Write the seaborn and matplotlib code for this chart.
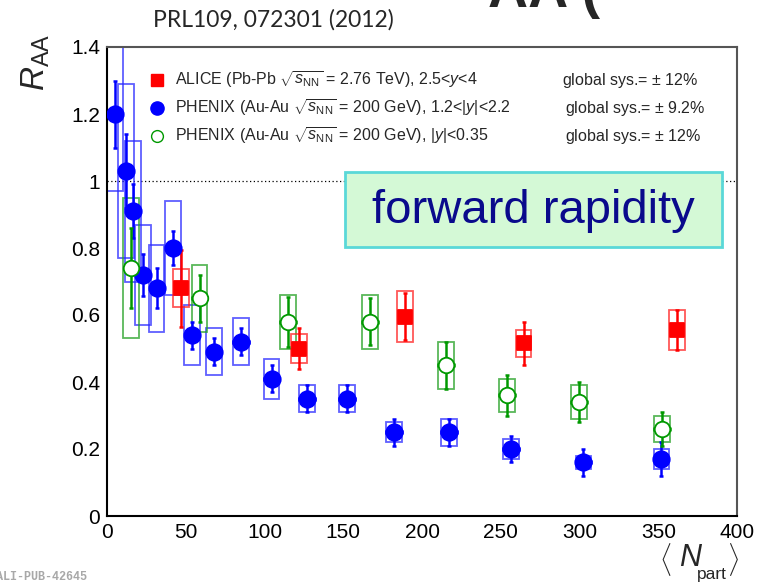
import numpy as np
import pandas as pd
import matplotlib
matplotlib.use("Agg")
import matplotlib.pyplot as plt
from matplotlib.patches import Rectangle
from matplotlib.ticker import MultipleLocator
import seaborn as sns

# ALICE Pb-Pb, forward rapidity
npart_alice = [47, 122, 189, 264.5, 362]
raa_alice = [0.68, 0.50, 0.595, 0.515, 0.555]
stat_alice = [0.115, 0.06, 0.07, 0.065, 0.06]
sys_alice = [0.057, 0.042, 0.076, 0.041, 0.06]
xerr_alice = [2, 2, 2, 2, 2]

# PHENIX Au-Au, 1.2<|y|<2.2
npart_fwd = [5, 12, 16.3, 23, 31.5, 41.7, 54, 68, 85, 104.5, 127, 152.5, 182, 217, 256.5, 302.5, 352]
raa_fwd = [1.20, 1.03, 0.91, 0.72, 0.68, 0.80, 0.54, 0.49, 0.52, 0.41, 0.35, 0.35, 0.25, 0.25, 0.20, 0.16, 0.17]
stat_fwd = [0.10, 0.11, 0.08, 0.062, 0.06, 0.05, 0.04, 0.04, 0.04, 0.04, 0.04, 0.04, 0.04, 0.04, 0.04, 0.04, 0.05]
sys_fwd = [0.23, 0.26, 0.21, 0.15, 0.13, 0.14, 0.09, 0.07, 0.07, 0.06, 0.04, 0.04, 0.03, 0.04, 0.03, 0.02, 0.03]
xerr_fwd = [0, 0, 0, 0, 0, 0, 4, 4, 5, 5, 5, 5, 5, 5, 5, 5, 4]

# PHENIX Au-Au, |y|<0.35
npart_mid = [15.2, 58.8, 114.7, 166.8, 215.3, 254.2, 299.8, 352.4]
raa_mid = [0.74, 0.65, 0.58, 0.58, 0.45, 0.36, 0.34, 0.26]
stat_mid = [0.12, 0.07, 0.075, 0.07, 0.07, 0.06, 0.06, 0.05]
sys_mid = [0.21, 0.10, 0.08, 0.08, 0.07, 0.05, 0.05, 0.04]
xerr_mid = [0, 5, 5, 5, 5, 5, 5, 5]

legend_labels = [
    r"ALICE (Pb-Pb $\sqrt{s_{\rm NN}}$ = 2.76 TeV), 2.5<$y$<4",
    r"PHENIX (Au-Au $\sqrt{s_{\rm NN}}$ = 200 GeV), 1.2<|$y$|<2.2",
    r"PHENIX (Au-Au $\sqrt{s_{\rm NN}}$ = 200 GeV), |$y$|<0.35",
]
global_sys = [r"global sys.= $\pm$ 12%", r"global sys.= $\pm$ 9.2%", r"global sys.= $\pm$ 12%"]

sns.set_style("white")
plt.rcParams["font.family"] = ["Liberation Sans", "DejaVu Sans"]
plt.rcParams["mathtext.fontset"] = "custom"
plt.rcParams["mathtext.rm"] = "Liberation Sans"
plt.rcParams["mathtext.it"] = "Liberation Sans:italic"
plt.rcParams["mathtext.bf"] = "Liberation Sans:bold"

W, H = 760, 584
fig = plt.figure(figsize=(W / 100, H / 100), dpi=100)
ax = fig.add_axes([107 / W, 1 - 516 / H, 630 / W, 469 / H])

BOX_HW = 5.0

series = [
    dict(x=npart_fwd, y=raa_fwd, stat=stat_fwd, sys=sys_fwd, xe=xerr_fwd,
         color="#0000ff", box="#2a2aff", marker="o", size=140, face="#0000ff"),
    dict(x=npart_mid, y=raa_mid, stat=stat_mid, sys=sys_mid, xe=xerr_mid,
         color="#009900", box="#22a022", marker="o", size=125, face="white"),
    dict(x=npart_alice, y=raa_alice, stat=stat_alice, sys=sys_alice, xe=xerr_alice,
         color="#ff0000", box="#ff2020", marker="s", size=105, face="#ff0000"),
]

# reference line at unity
ax.axhline(1.0, color="black", lw=0.9, ls=(0, (1, 2)), zorder=1)

for s in series:
    # systematic uncertainty boxes
    for xi, yi, si in zip(s["x"], s["y"], s["sys"]):
        ax.add_patch(Rectangle((xi - BOX_HW, yi - si), 2 * BOX_HW, 2 * si,
                               fill=False, edgecolor=s["box"], lw=1.3, alpha=0.75, zorder=2))
    # statistical error bars
    ax.errorbar(s["x"], s["y"], yerr=s["stat"], xerr=s["xe"], fmt="none",
                ecolor=s["color"], elinewidth=1.8, capsize=1.5, capthick=1.8, zorder=3)
    df = pd.DataFrame({"npart": s["x"], "raa": s["y"]})
    sns.scatterplot(data=df, x="npart", y="raa", ax=ax, marker=s["marker"], s=s["size"],
                    color=s["face"], edgecolor=s["color"], linewidth=1.3, zorder=4, legend=False)

ax.set_xlim(0, 400)
ax.set_ylim(0, 1.4)
ax.set_xlabel("")
ax.set_ylabel("")
ax.xaxis.set_minor_locator(MultipleLocator(10))
ax.yaxis.set_minor_locator(MultipleLocator(0.05))
ax.set_yticks(np.arange(0, 1.41, 0.2))
ax.set_yticklabels(["0", "0.2", "0.4", "0.6", "0.8", "1", "1.2", "1.4"])
ax.set_xticks(np.arange(0, 401, 50))
ax.set_xticklabels([str(v) for v in range(0, 401, 50)])
ax.tick_params(axis="both", which="major", direction="in", length=13, width=1.0,
               labelsize=15, colors="black", pad=5)
ax.tick_params(axis="both", which="minor", direction="in", length=6.5, width=1.0)
ax.tick_params(top=False, right=False, which="both")
for side in ["left", "bottom"]:
    ax.spines[side].set_color("black")
    ax.spines[side].set_linewidth(1.5)
for side in ["top", "right"]:
    ax.spines[side].set_color("#555555")
    ax.spines[side].set_linewidth(1.5)


def fx(px):
    return px / W


def fy(py):
    return 1 - py / H


# legend rows
leg_rows = [80, 108, 136]
leg_styles = [("s", "#ff0000", "#ff0000", 8), ("o", "#0000ff", "#0000ff", 9.5), ("o", "white", "#009900", 8.5)]
for (mk, face, edge, ms), row, lab, gs, gx in zip(leg_styles, leg_rows, legend_labels, global_sys,
                                                  [562, 565, 565]):
    fig.add_artist(plt.Line2D([fx(157)], [fy(row)], marker=mk, markersize=ms,
                              markerfacecolor=face, markeredgecolor=edge, markeredgewidth=1.0,
                              linestyle="none", transform=fig.transFigure))
    fig.text(fx(175), fy(row), lab, fontsize=11.5, va="center", ha="left")
    fig.text(fx(gx), fy(row), gs, fontsize=11.5, va="center", ha="left")

# label box
fig.add_artist(Rectangle((fx(345), fy(247)), (722 - 345) / W, (247 - 172) / H,
                         transform=fig.transFigure, facecolor="#d4f9d6",
                         edgecolor="#5ad8d8", lw=2.0, zorder=5))
fig.text(fx(533), fy(211), "forward rapidity", fontsize=34, color="#0a0a8c",
         ha="center", va="center", zorder=6)

# axis titles
fig.text(fx(36), fy(62), r"$R_{\rm AA}$", fontsize=24, rotation=90, ha="center", va="center")
fig.text(fx(659), fy(559), r"$\langle$", fontsize=19, ha="left", va="center")
fig.text(fx(679), fy(558), r"$N$", fontsize=22, ha="left", va="center")
fig.text(fx(697), fy(574), "part", fontsize=12.5, ha="left", va="center")
fig.text(fx(727), fy(559), r"$\rangle$", fontsize=19, ha="left", va="center")

# header and footer
fig.text(fx(153), fy(20), "PRL109, 072301 (2012)", fontsize=16.5,
         family=["Lato", "DejaVu Sans"], ha="left", va="center")
fig.text(fx(488), fy(7), "AA (", fontsize=40, fontweight="bold", ha="left", va="baseline")
fig.text(fx(-4), fy(577), "ALI-PUB-42645", fontsize=8.5, color="#a8a8a8", fontweight="bold",
         family=["Liberation Mono", "DejaVu Sans Mono"], ha="left", va="center")

fig.savefig("out.png", dpi=100)
